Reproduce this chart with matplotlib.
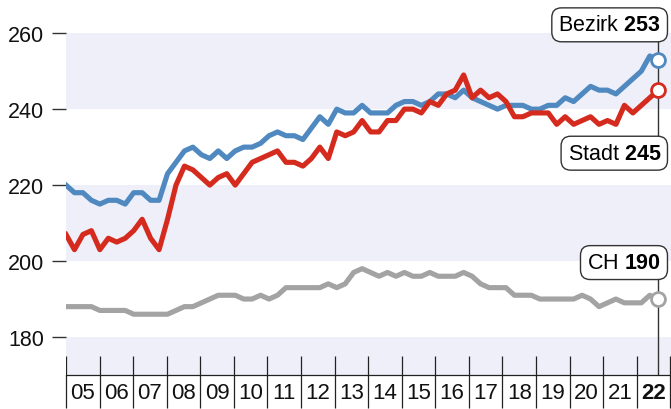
import numpy as np
import matplotlib.pyplot as plt
import matplotlib.transforms as mtransforms

plt.rcParams['font.family'] = ['Liberation Sans', 'DejaVu Sans']
plt.rcParams['mathtext.fontset'] = 'custom'
plt.rcParams['mathtext.rm'] = 'Liberation Sans'
plt.rcParams['mathtext.bf'] = 'Liberation Sans:bold'

# quarterly index values, 2005 Q1 .. 2022 Q3
bezirk = [220, 218, 218, 216, 215, 216, 216, 215, 218, 218, 216, 216, 223, 226, 229, 230, 228, 227, 229, 227, 229,
          230, 230, 231, 233, 234, 233, 233, 232, 235, 238, 236, 240, 239, 239, 241, 239, 239, 239, 241, 242, 242,
          241, 242, 244, 244, 243,
          245, 243, 242, 241, 240, 241, 241, 241, 240, 240, 241, 241, 243, 242, 244, 246, 245, 245, 244, 246, 248,
          250, 254, 253]
stadt = [207, 203, 207, 208, 203, 206, 205, 206, 208, 211, 206, 203, 211, 220, 225, 224, 222, 220, 222, 223, 220,
         223, 226, 227, 228, 229, 226, 226, 225, 227, 230, 227, 234, 233, 234, 237, 234, 234, 237, 237, 240, 240,
         239, 242, 241, 244, 245,
         249, 243, 245, 243, 244, 242, 238, 238, 239, 239, 239, 236, 238, 236, 237, 238, 236, 237, 236, 241, 239,
         241, 243, 245]
ch = [188, 188, 188, 188, 187, 187, 187, 187, 186, 186, 186, 186, 186, 187, 188, 188, 189, 190, 191, 191, 191,
      190, 190, 191, 190, 191, 193, 193, 193, 193, 193, 194, 193, 194, 197, 198, 197, 196, 197, 196, 197, 196,
      196, 197, 196, 196, 196,
      197, 196, 194, 193, 193, 193, 191, 191, 191, 190, 190, 190, 190, 190, 191, 190, 188, 189, 190, 189, 189,
      189, 191, 190]
year_labels = ['05', '06', '07', '08', '09', '10', '11', '12', '13', '14', '15', '16', '17', '18', '19', '20',
               '21', '22']
yticks = [180, 200, 220, 240, 260]

blue = '#4f89c0'
red = '#d52b1e'
grey = '#a3a3a3'
band = '#eeeff9'

n = len(bezirk)
x = 2005 + np.arange(n) * 0.252  # quarter spacing as drawn in the original

fig = plt.figure(figsize=(6.71, 4.10), dpi=100)
ax = fig.add_axes([66 / 671, 34 / 410, 605 / 671, 376 / 410])
ax.set_xlim(2005, 2023.02)
ax.set_ylim(170, 269)

for lo, hi in [(240, 260), (200, 220), (170, 180)]:
    ax.axhspan(lo, hi, color=band, lw=0, zorder=0)

ax.plot(x, ch, color=grey, lw=3.7, solid_joinstyle='round', zorder=3)
ax.plot(x, bezirk, color=blue, lw=3.7, solid_joinstyle='round', zorder=3)
ax.plot(x, stadt, color=red, lw=3.7, solid_joinstyle='round', zorder=4)

# connectors from the end points to the labels
ax.plot([x[-1], x[-1]], [258.4, 232.1], color='#333333', lw=1, zorder=2)
ax.plot([x[-1], x[-1]], [195.8, 170], color='#333333', lw=1, zorder=2)

for series, col in [(ch, grey), (bezirk, blue), (stadt, red)]:
    ax.plot(x[-1], series[-1], 'o', ms=10, mfc='white', mec=col, mew=2, zorder=6)

tr = mtransforms.blended_transform_factory(ax.transAxes, ax.transData)
box = dict(boxstyle='round,pad=0.3,rounding_size=0.45', fc='white', ec='#333333', lw=1)
for name, series, ypos in [('Bezirk', bezirk, 262.2), ('Stadt', stadt, 228.4), ('CH', ch, 199.6)]:
    ax.text(0.9835, ypos, name + r' $\mathbf{' + str(series[-1]) + '}$', transform=tr,
            ha='right', va='center', fontsize=15.5, bbox=box, zorder=7)

# axes
for s in ['top', 'right', 'left']:
    ax.spines[s].set_visible(False)
ax.spines['bottom'].set_linewidth(0.9)
ax.spines['bottom'].set_color('#222222')

ax.set_yticks(yticks)
ax.tick_params(axis='y', length=10, width=1, color='#333333', pad=6, labelsize=15.5, labelcolor='#111111')

ax.set_xticks(np.arange(2005, 2024))
ax.set_xticklabels([])
ax.tick_params(axis='x', which='major', length=24, width=0.9, color='#222222')
ax.set_xticks(np.arange(2005, 2023) + 0.5, minor=True)
ax.set_xticklabels(year_labels, minor=True)
ax.tick_params(axis='x', which='minor', length=0, pad=5, labelsize=16, labelcolor='#111111')
ax.get_xticklabels(minor=True)[-1].set_fontweight('bold')
ax.vlines(np.arange(2005, 2024), 170, 175, color='#222222', lw=0.9, zorder=1)

fig.savefig('out.png', dpi=100)
